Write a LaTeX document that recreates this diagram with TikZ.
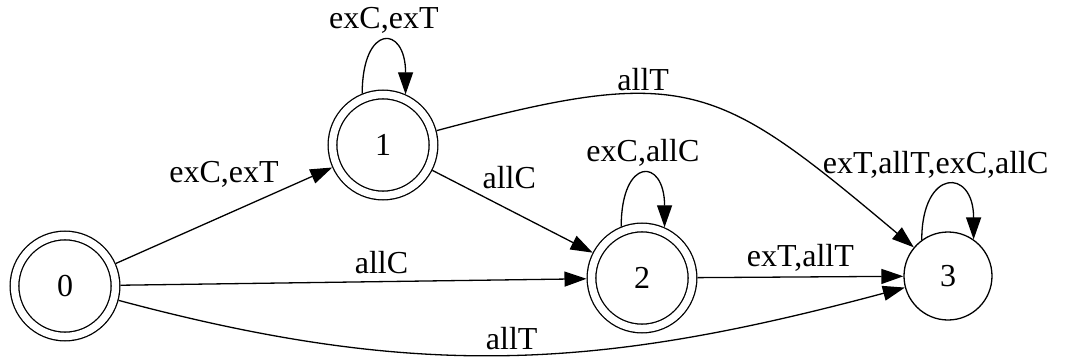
\documentclass[tikz,border=0pt]{standalone}
\usepackage{fontspec}
\setmainfont{Liberation Serif}
\usetikzlibrary{arrows.meta,positioning}

\begin{document}
\begin{tikzpicture}[x=1pt, y=1pt, line width=1.3pt,
    >={Triangle[length=22pt,width=15pt]},
    every node/.style={font=\fontsize{32}{36}\selectfont, inner sep=1pt},
    state/.style={draw, circle, minimum size=88pt, text centered, text=black},
    accept/.style={state, double, double distance=7.4pt, minimum size=101pt, outer sep=5pt}]
    \useasboundingbox (0,0) rectangle (1077,360);
    \node[accept] (q0) at (65, 74) {0};
    \node[accept] (q1) at (383, 215) {1};
    \node[accept] (q2) at (642, 82) {2};
    \node[state] (q3) at (948, 84) {3};
    % transitions between states
    \draw [->] (q0) -- node[above=26pt] {exC,exT} (q1);
    \draw [->] (q0) -- node[pos=.56, above=6pt] {allC} (q2);
    \draw [->] (q0) to[out=-15, in=195, looseness=1.02] node[pos=.5, above=3pt] {allT} (q3);
    \draw [->] (q1) -- node[pos=.48, above=19pt] {allC} (q2);
    \draw [->] (q1) to[out=15, in=140, looseness=1.35] node[pos=.37, above=2pt] {allT} (q3);
    \draw [->] (q2) -- node[above=4pt] {exT,allT} (q3);
    % self loops
    \draw [->] (q1.112) to[out=90, in=90, distance=70pt] node[above=6pt] {exC,exT} (q1.66);
    \draw [->] (q2.112) to[out=90, in=90, distance=70pt] node[above=6pt] {exC,allC} (q2.66);
    \draw [->] (q3.126) to[out=90, in=90, distance=72pt] node[above=6pt, xshift=-12pt] {exT,allT,exC,allC} (q3.55);
\end{tikzpicture}
\end{document}
